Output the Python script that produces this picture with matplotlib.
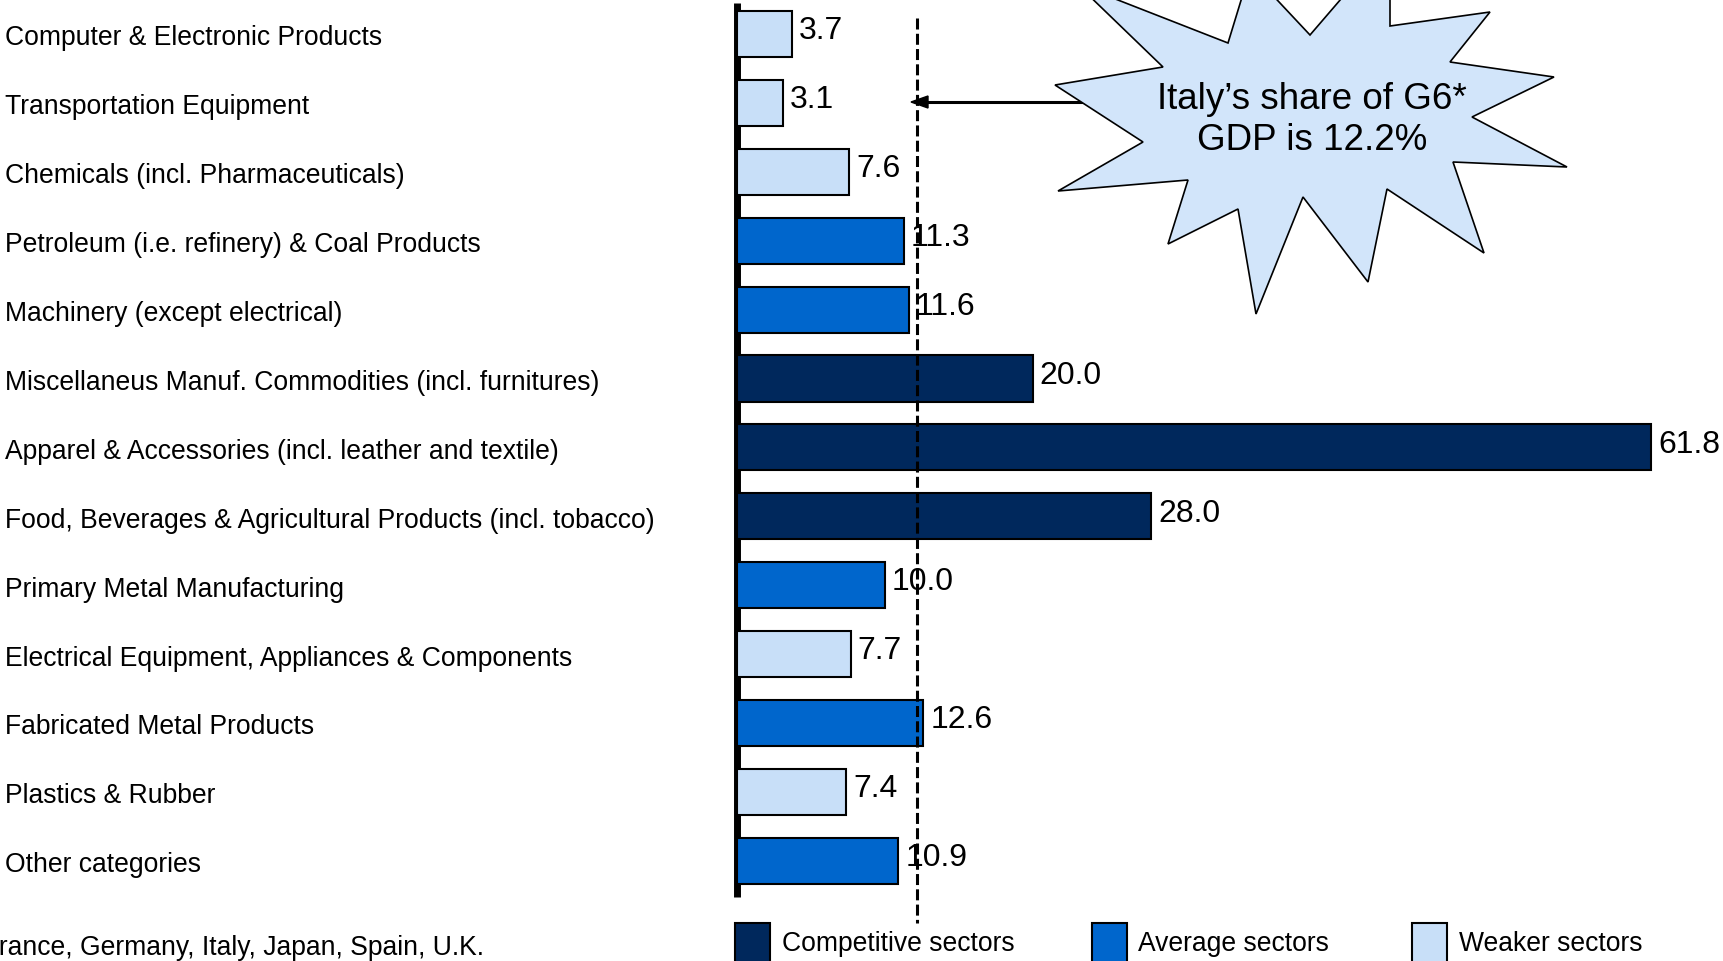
"""Italy's share of G6 manufacturing exports by sector, vs. its share of G6 GDP."""

import matplotlib.pyplot as plt
from matplotlib.patches import Polygon, Rectangle
from matplotlib.transforms import blended_transform_factory

plt.rcParams["font.family"] = ["Liberation Sans", "DejaVu Sans"]

categories = [
    "Computer & Electronic Products",
    "Transportation Equipment",
    "Chemicals (incl. Pharmaceuticals)",
    "Petroleum (i.e. refinery) & Coal Products",
    "Machinery (except electrical)",
    "Miscellaneus Manuf. Commodities (incl. furnitures)",
    "Apparel & Accessories (incl. leather and textile)",
    "Food, Beverages & Agricultural Products (incl. tobacco)",
    "Primary Metal Manufacturing",
    "Electrical Equipment, Appliances & Components",
    "Fabricated Metal Products",
    "Plastics & Rubber",
    "Other categories",
]
shares = [3.7, 3.1, 7.6, 11.3, 11.6, 20.0, 61.8, 28.0, 10.0, 7.7, 12.6, 7.4, 10.9]
groups = ["W", "W", "W", "A", "A", "C", "C", "C", "A", "W", "A", "W", "A"]
gdp_share = 12.2

group_names = {"C": "Competitive sectors", "A": "Average sectors", "W": "Weaker sectors"}
group_colors = {"C": "#00285C", "A": "#0066CC", "W": "#C8DFF8"}

W, H = 1724, 961
fig = plt.figure(figsize=(W / 100, H / 100), dpi=100)


def fx(x):
    return x / W


def fy(y):
    # pixel rows counted from the top
    return 1 - y / H


# axes laid out so that bar 0 centres at row 34 and rows are 68.9 px apart
x0_px, px_per_unit = 737, 14.79
row0, pitch = 34, 68.9
ax = fig.add_axes([fx(x0_px), 0, 1 - fx(x0_px), 1])
ax.set_xlim(0, (W - x0_px) / px_per_unit)
ax.set_ylim((H - row0) / pitch, -row0 / pitch)
ax.axis("off")

ypos = list(range(len(categories)))
ax.barh(
    ypos, shares, height=0.67,
    color=[group_colors[g] for g in groups],
    edgecolor="black", linewidth=1.5, zorder=3,
)

# thick baseline on the left
ax.plot([0, 0], [(3 - row0) / pitch, (897 - row0) / pitch],
        color="black", lw=5, solid_capstyle="butt", clip_on=False, zorder=2)

# GDP share reference line
ax.plot([gdp_share, gdp_share], [(18 - row0) / pitch, (923 - row0) / pitch],
        color="black", lw=2.2, linestyle=(0, (3.6, 1.4)), clip_on=False, zorder=4)

for y, v in zip(ypos, shares):
    ax.annotate(f"{v:.1f}", xy=(v, y), xytext=(5, 2), textcoords="offset points",
                ha="left", va="center", fontsize=23, zorder=5)

# category labels on the left
lab_tr = blended_transform_factory(fig.transFigure, ax.transData)
for y, c in zip(ypos, categories):
    ax.text(fx(5), y + 0.065, c, transform=lab_tr, ha="left", va="center",
            fontsize=19.1, clip_on=False)

# starburst callout with arrow to the reference line
fig.add_artist(plt.Line2D([fx(1100), fx(925)], [fy(102), fy(102)],
                          transform=fig.transFigure, color="black", lw=2.2, zorder=5))
fig.add_artist(Polygon(
    [(fx(911), fy(102)), (fx(928), fy(96)), (fx(928), fy(108))],
    closed=True, transform=fig.transFigure, facecolor="black", edgecolor="black",
    lw=1, zorder=5))

burst_px = [
    (1077, -16), (1228, 43), (1250, -29), (1310, 35), (1390, -58), (1390, 26),
    (1490, 12), (1450, 62), (1554, 77), (1472, 117), (1567, 167), (1453, 162),
    (1484, 253), (1387, 189), (1368, 282), (1303, 197), (1256, 314), (1238, 209),
    (1168, 244), (1188, 180), (1058, 191), (1143, 142), (1055, 85), (1163, 67),
]
fig.add_artist(Polygon(
    [(fx(x), fy(y)) for x, y in burst_px], closed=True, transform=fig.transFigure,
    facecolor="#D2E5FA", edgecolor="black", lw=1.2, zorder=6))
fig.text(fx(1312), fy(120), "Italy\u2019s share of G6*\nGDP is 12.2%",
         ha="center", va="center", fontsize=26.5, linespacing=1.22, zorder=7)

# legend row at the bottom
legend_px = [("C", 735, 782), ("A", 1092, 1138), ("W", 1412, 1459)]
for g, px0, tx in legend_px:
    fig.add_artist(Rectangle((fx(px0), fy(975)), fx(35), fy(923) - fy(975),
                             transform=fig.transFigure, facecolor=group_colors[g],
                             edgecolor="black", lw=1.5))
    fig.text(fx(tx), fy(944), group_names[g], ha="left", va="center", fontsize=19.1)

# footnote, clipped at the left edge as in the source slide
fig.text(fx(484), fy(948), "* G6: France, Germany, Italy, Japan, Spain, U.K.",
         ha="right", va="center", fontsize=19.1)

fig.savefig("out.png", dpi=100)
plt.close(fig)
